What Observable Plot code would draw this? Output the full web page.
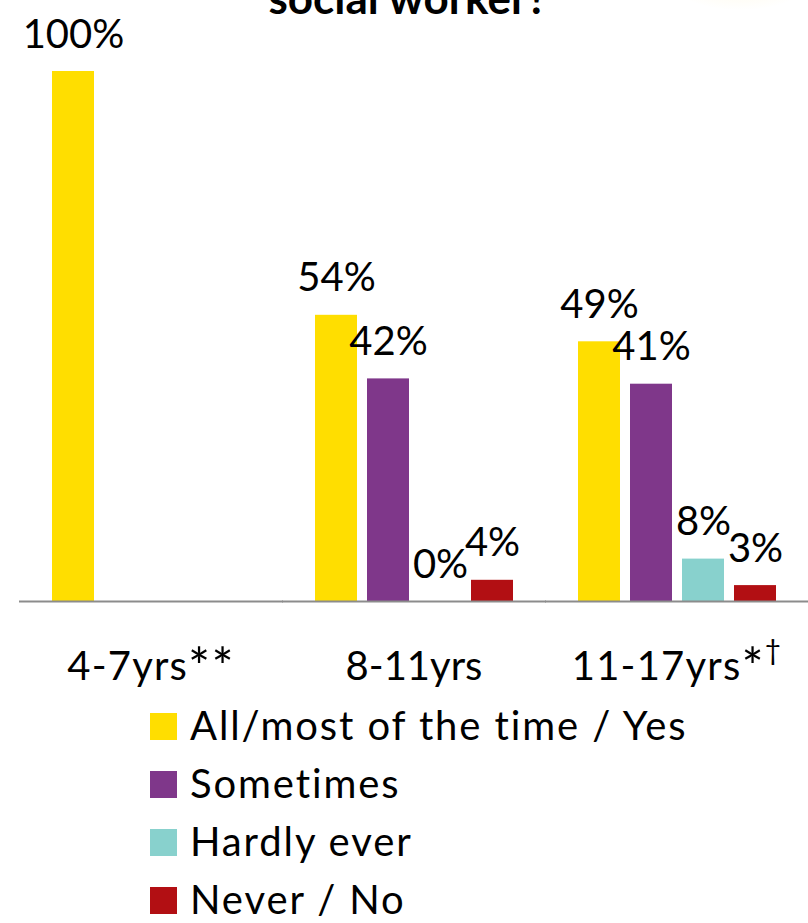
<!DOCTYPE html>
<html>
<head>
<meta charset="utf-8">
<script src="https://cdn.jsdelivr.net/npm/d3@7"></script>
<script src="https://cdn.jsdelivr.net/npm/@observablehq/plot@0.6"></script>
<style>
  html, body { margin: 0; padding: 0; background: #fff; overflow: hidden; }
  #page { position: relative; width: 808px; height: 923px; overflow: hidden; font-family: Lato, "Open Sans", sans-serif; }
  #glow { position: absolute; left: 665px; top: -62px; width: 150px; height: 72px; border-radius: 50%;
          background: radial-gradient(ellipse at center, rgba(255,225,110,0.32) 0%, rgba(255,236,170,0.12) 45%, rgba(255,255,255,0) 72%); }
  #title { position: absolute; left: 0; width: 816px; top: -25px; line-height: 44px; text-align: center;
           font-weight: 700; font-size: 44px; color: #000; white-space: nowrap; }
  #chart { position: absolute; left: 0; top: 0; }
  #legend { position: absolute; left: 0; top: 696px; width: 808px; }
  .row { position: relative; height: 58px; }
  .sw { position: absolute; left: 150px; top: 17px; width: 27px; height: 27px; }
  .lab { position: absolute; left: 190px; top: 0; line-height: 58px; font-size: 40px; letter-spacing: 1.9px; color: #000; white-space: nowrap; }
</style>
</head>
<body>
<div id="page">
  <div id="glow"></div>
  <div id="chart"></div>
  <div id="title">social worker?</div>
  <div id="legend"></div>
</div>
<script>
// Age groups along the bottom axis
const groups = ["4-7yrs**", "8-11yrs", "11-17yrs*†"];
// Answer categories and their colours
const series = ["All/most of the time / Yes", "Sometimes", "Hardly ever", "Never / No"];
const colors = ["#FFDE00", "#7F378A", "#88D1CD", "#B20F13"];
// Percentages per age group (null = not asked / not shown)
const allMost   = [100, 54, 49];
const sometimes = [null, 42, 41];
const hardly    = [null, 0, 8];
const never     = [null, 4, 3];

const valuesBySeries = [allMost, sometimes, hardly, never];
const rows = [];
groups.forEach((g, gi) => {
  series.forEach((s, si) => {
    const v = valuesBySeries[si][gi];
    if (v !== null) rows.push({group: g, series: s, value: v});
  });
});

const chart = Plot.plot({
  width: 808,
  height: 700,
  marginTop: 71,
  marginBottom: 99,
  marginLeft: 20,
  marginRight: 0,
  style: {fontFamily: "Lato, 'Open Sans', sans-serif", fontSize: "40px", color: "#000", background: "transparent", overflow: "visible"},
  fx: {domain: groups, paddingInner: 0.1654, paddingOuter: 0.08, axis: null},
  x: {domain: series, paddingInner: 0.2, paddingOuter: 0.2, axis: null},
  y: {domain: [0, 100], axis: null},
  color: {domain: series, range: colors},
  marks: [
    Plot.barY(rows, {fx: "group", x: "series", y: "value", fill: "series"}),
    // baseline, stretched past each group so the pieces join into one line
    Plot.ruleY([0], {stroke: "#8C8C8C", strokeWidth: 2, insetLeft: -22, insetRight: -23}),
    Plot.text(rows, {fx: "group", x: "series", y: "value", text: d => `${d.value}%`,
                     lineAnchor: "bottom", dy: -24, fontSize: 40, fill: "#000",
                     style: "letter-spacing: 1.2px"}),
    Plot.axisFx({anchor: "bottom", tickSize: 0, tickPadding: 50, fontSize: 40, fill: "#000", label: null})
  ]
});
document.getElementById("chart").appendChild(chart);

// Group labels: larger asterisks, and the dagger raised as a superscript
const SVGNS = "http://www.w3.org/2000/svg";
chart.querySelectorAll("text").forEach(t => {
  const s = t.textContent;
  if (!groups.includes(s)) return;
  const m = s.match(/^([^*†]*)(\**)(†?)$/);
  if (!m || (!m[2] && !m[3])) return;
  const holder = t.querySelector("tspan") || t;
  holder.textContent = m[1];
  holder.setAttribute("letter-spacing", "1.2");
  let shift = 0;
  if (m[2]) {
    const stars = document.createElementNS(SVGNS, "tspan");
    stars.setAttribute("font-size", "52");
    stars.setAttribute("dy", "6");
    stars.textContent = m[2];
    holder.appendChild(stars);
    shift = 6;
  }
  if (m[3]) {
    const dag = document.createElementNS(SVGNS, "tspan");
    dag.setAttribute("font-size", "28");
    dag.setAttribute("dy", String(-20 - shift));
    dag.textContent = m[3];
    holder.appendChild(dag);
  }
});

// Legend rows below the plot
const legend = document.getElementById("legend");
series.forEach((s, i) => {
  const row = document.createElement("div");
  row.className = "row";
  const sw = document.createElement("div");
  sw.className = "sw";
  sw.style.background = colors[i];
  const lab = document.createElement("div");
  lab.className = "lab";
  lab.textContent = s;
  row.appendChild(sw);
  row.appendChild(lab);
  legend.appendChild(row);
});
</script>
</body>
</html>
